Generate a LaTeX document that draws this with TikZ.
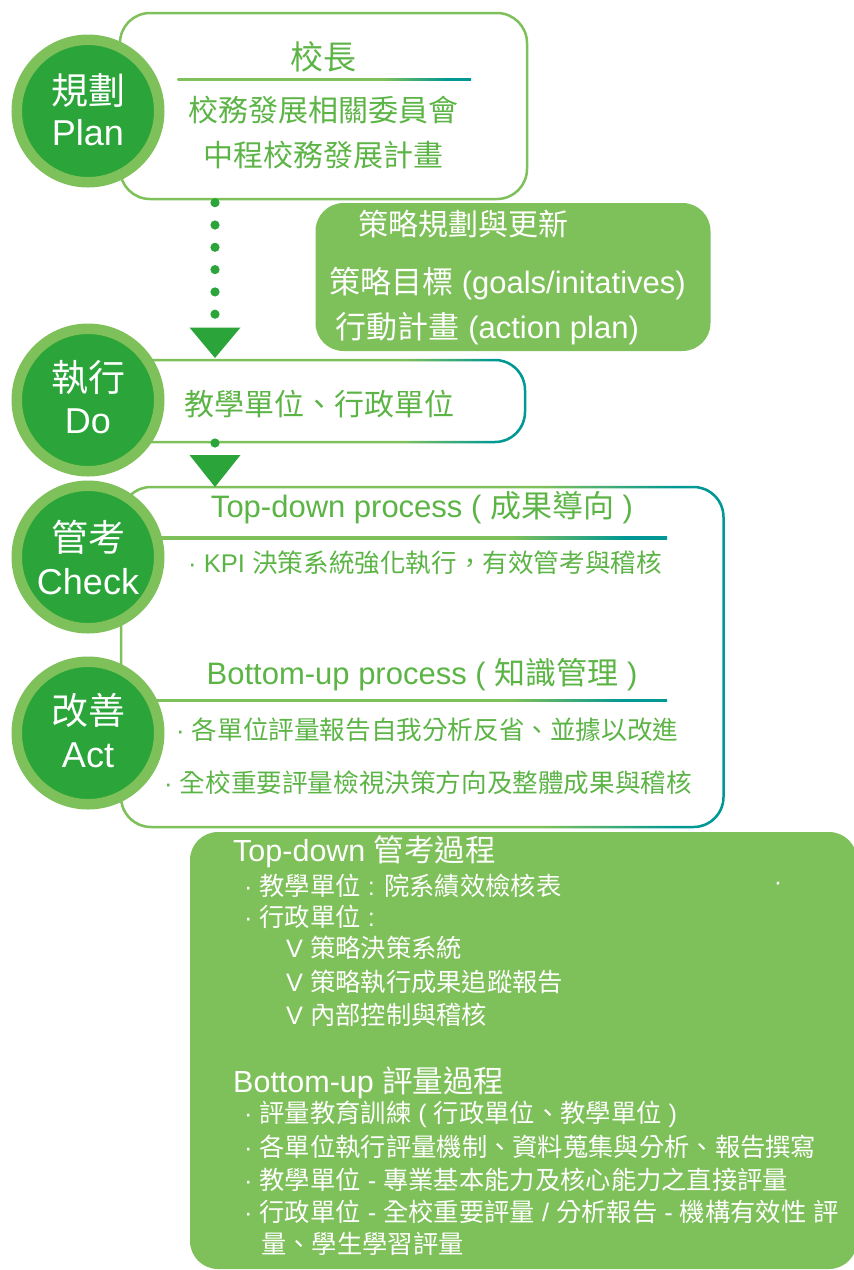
\documentclass[tikz,border=0pt]{standalone}
\usepackage{fontspec}
\setmainfont{Liberation Sans}
\newfontfamily\cjk{Noto Sans CJK TC}
\newcommand\zh[1]{{\cjk #1}}
\newcommand\fsz[1]{\fontsize{#1}{#1}\selectfont}
\definecolor{dg}{RGB}{43,165,58}
\definecolor{lg}{RGB}{126,192,89}
\definecolor{tx}{RGB}{92,180,70}
\definecolor{tl}{RGB}{0,152,148}
\pgfdeclarehorizontalshading{edgeshade}{100bp}{color(0bp)=(lg); color(25bp)=(lg); color(60bp)=(lg); color(71bp)=(tl); color(100bp)=(tl)}
\begin{document}
\begin{tikzpicture}[x=1pt,y=-1pt,
  circ/.style={circle, fill=dg, draw=lg, line width=10.5, minimum size=142.5, inner sep=0},
  ctext/.style={inner sep=0, text=white},
  gw/.style={inner sep=0, anchor=west, text=tx},
  gc/.style={inner sep=0, text=tx},
  ww/.style={inner sep=0, anchor=west, text=white},
  wc/.style={inner sep=0, text=white},
  dotline/.style={dg, line width=9.2, line cap=round, dash pattern=on 0pt off 22.3pt},
  headtri/.style={fill=dg}
]
\useasboundingbox (0,0) rectangle (854,1270);
\begin{scope}
\clip (0,0) rectangle (854,1270);
% boxes
\draw[lg, line width=2.5, rounded corners=30] (120,13) rectangle (527,199);
\fill[lg, rounded corners=28] (315.5,203) rectangle (710.5,351);
\shade[shading=edgeshade, even odd rule, rounded corners=31.25] (118.75,358.75) rectangle (526.25,443.25) [rounded corners=28.75] (121.25,361.25) rectangle (523.75,440.75);
\shade[shading=edgeshade, even odd rule, rounded corners=31.25] (119.75,485.75) rectangle (724.75,828.25) [rounded corners=28.75] (122.25,488.25) rectangle (722.25,825.75);
\fill[lg, rounded corners=28] (190,832) rectangle (857,1269);
% separators
\shade[shading=edgeshade] (177.5,78) rectangle (471,80.5);
\shade[shading=edgeshade] (150,536.5) rectangle (667,539);
\shade[shading=edgeshade] (150,699) rectangle (667,701.5);
% connectors
\coordinate (d1s) at (215,202.7);
\coordinate (d1e) at (215,314.6);
\draw[dotline] (d1s) -- (d1e);
\coordinate (t1) at (215,358);
\fill[headtri] (t1) -- ++(-25.5,-30.5) -- ++(51,0) -- cycle;
\coordinate (d2) at (215,443);
\fill[dg] (d2) circle (4.6);
\coordinate (t2) at (215,487);
\fill[headtri] (t2) -- ++(-25.5,-32) -- ++(51,0) -- cycle;
% circles
\node[circ] (plan) at (88,111) {};
\node[circ] (do) at (88,400) {};
\node[circ] (check) at (88,557) {};
\node[circ] (act) at (88,733) {};
\node[ctext, font=\fsz{37}] (planzh) at ([yshift=21]plan.center) {\cjk 規劃};
\node[ctext, font=\fsz{36}] (planen) at ([yshift=-22]plan.center) {Plan};
\node[ctext, font=\fsz{37}] (dozh) at ([yshift=22]do.center) {\cjk 執行};
\node[ctext, font=\fsz{36}] (doen) at ([yshift=-21]do.center) {Do};
\node[ctext, font=\fsz{37}] (checkzh) at ([yshift=20]check.center) {\cjk 管考};
\node[ctext, font=\fsz{36}] (checken) at ([yshift=-25]check.center) {Check};
\node[ctext, font=\fsz{37}] (actzh) at ([yshift=23]act.center) {\cjk 改善};
\node[ctext, font=\fsz{36}] (acten) at ([yshift=-22]act.center) {Act};
% plan box text
\node[gc, font=\fsz{33}] (p1) at (323,57) {\cjk 校長};
\node[gc, font=\fsz{30}] (p2) at (323,110) {\cjk 校務發展相關委員會};
\node[gc, font=\fsz{30}] (p3) at (323,155) {\cjk 中程校務發展計畫};
% strategy box text
\node[wc, font=\fsz{30}] (s1) at (463,223.5) {\cjk 策略規劃與更新};
\node[ww, font=\fsz{31}] (s2) at (329,284) {\zh{策略目標} (goals/initatives)};
\node[ww, font=\fsz{31}] (s3) at (335.5,329) {\zh{行動計畫} (action plan)};
% do box text
\node[gw, font=\fsz{30}] (o1) at (184,404) {\cjk 教學單位、行政單位};
% check box text
\node[gc, font=\fsz{31}] (c1) at (422,508) {Top-down process ( \zh{成果導向} )};
\node[gw, font=\fsz{25.6}] (c2) at (188,563) {· KPI \zh{決策系統強化執行，有效管考與稽核}};
\node[gc, font=\fsz{31}] (c3) at (422,675) {Bottom-up process ( \zh{知識管理} )};
\node[gw, font=\fsz{25.6}] (c4) at (176,730) {· \zh{各單位評量報告自我分析反省、並據以改進}};
\node[gw, font=\fsz{25.6}] (c5) at (164,783) {· \zh{全校重要評量檢視決策方向及整體成果與稽核}};
% bottom box text
\node[ww, font=\fsz{30.5}] (b1) at (233,852) {Top-down \zh{管考過程}};
\node[ww, font=\fsz{25.3}] (b2) at (244,886) {· \zh{教學單位} : \zh{院系績效檢核表}};
\node[wc, font=\fsz{25.3}] (b2dot) at (778,886) {·};
\node[ww, font=\fsz{25.3}] (b3) at (244,917) {· \zh{行政單位} :};
\node[ww, font=\fsz{25.3}] (b4) at (286,948) {V \zh{策略決策系統}};
\node[ww, font=\fsz{25.3}] (b5) at (286,982) {V \zh{策略執行成果追蹤報告}};
\node[ww, font=\fsz{25.3}] (b6) at (286,1015) {V \zh{內部控制與稽核}};
\node[ww, font=\fsz{30.5}] (b7) at (233,1083) {Bottom-up \zh{評量過程}};
\node[ww, font=\fsz{25.3}] (b8) at (244,1114) {· \zh{評量教育訓練} ( \zh{行政單位、教學單位} )};
\node[ww, font=\fsz{25.3}] (b9) at (244,1147) {· \zh{各單位執行評量機制、資料蒐集與分析、報告撰寫}};
\node[ww, font=\fsz{25.3}] (b10) at (244,1180) {· \zh{教學單位} - \zh{專業基本能力及核心能力之直接評量}};
\node[ww, font=\fsz{25.3}] (b11) at (244,1212) {· \zh{行政單位} - \zh{全校重要評量} / \zh{分析報告} - \zh{機構有效性} \zh{評}};
\node[ww, font=\fsz{25.3}] (b12) at (261,1244) {\zh{量、學生學習評量}};
\end{scope}
\end{tikzpicture}
\end{document}
